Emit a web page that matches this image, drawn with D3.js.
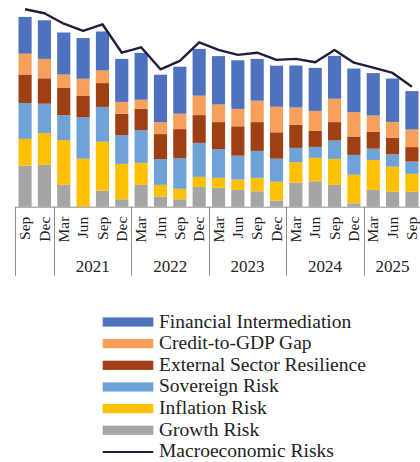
<!DOCTYPE html>
<html>
<head>
<meta charset="utf-8">
<script src="https://cdn.jsdelivr.net/npm/d3@7"></script>
<style>
  html, body { margin: 0; padding: 0; background: #fff; }
  svg { display: block; }
  text { font-family: "Liberation Serif", "Times New Roman", serif; fill: #222; }
</style>
</head>
<body>
<svg id="chart" width="420" height="462"></svg>
<script>
// Quarterly periods, Sep 2020 to Sep 2025
const months = ["Sep","Dec","Mar","Jun","Sep","Dec","Mar","Jun","Sep","Dec","Mar","Jun","Sep","Dec","Mar","Jun","Sep","Dec","Mar","Jun","Sep"];
const periodYears = [2020,2020,2021,2021,2021,2021,2022,2022,2022,2022,2023,2023,2023,2023,2024,2024,2024,2024,2025,2025,2025];
const labelledYears = [2021, 2022, 2023, 2024, 2025];

// Risk component contributions (index points)
const growthRisk    = [20.5, 20.9, 10.9, 0.0, 8.0, 3.7, 10.9, 5.0, 3.7, 9.9, 9.5, 8.4, 7.7, 3.0, 12.0, 12.7, 10.9, 1.7, 8.4, 7.5, 7.5];
const inflationRisk = [13.4, 15.9, 22.4, 24.0, 24.5, 17.7, 11.0, 5.9, 5.2, 5.0, 4.9, 5.2, 6.7, 9.5, 10.2, 11.7, 13.0, 14.3, 14.9, 12.5, 8.9];
const sovereignRisk = [17.9, 14.7, 12.5, 20.7, 17.4, 14.4, 16.4, 12.9, 15.4, 17.0, 14.4, 11.9, 13.5, 11.5, 7.2, 5.5, 9.2, 9.9, 5.7, 6.2, 6.2];
const externalSector= [14.3, 12.7, 13.8, 10.9, 11.9, 10.7, 10.7, 12.5, 14.5, 13.9, 13.5, 14.7, 14.4, 13.2, 11.5, 8.0, 9.2, 9.2, 8.4, 8.2, 7.2];
const creditGap     = [10.4, 9.7, 6.5, 8.4, 6.3, 5.9, 4.5, 6.0, 7.7, 9.7, 8.8, 8.7, 10.7, 12.8, 8.7, 10.0, 11.7, 12.2, 8.2, 8.0, 8.8];
const financialInt  = [18.4, 19.3, 21.0, 20.3, 19.5, 21.5, 23.4, 23.7, 23.5, 23.4, 24.2, 24.3, 20.9, 20.5, 21.0, 21.5, 21.4, 21.8, 21.2, 21.7, 19.2];
const macroRisks    = [98.7, 96.7, 91.5, 87.9, 91.2, 77.0, 79.7, 68.7, 72.9, 82.2, 78.4, 75.9, 77.0, 73.4, 73.9, 72.2, 78.4, 72.0, 69.5, 66.9, 60.0];

const series = [
  { key: "growth",    name: "Growth Risk",                 color: "#A5A5A5", values: growthRisk },
  { key: "inflation", name: "Inflation Risk",              color: "#FFC000", values: inflationRisk },
  { key: "sovereign", name: "Sovereign Risk",              color: "#6FA3D7", values: sovereignRisk },
  { key: "external",  name: "External Sector Resilience",  color: "#9E4014", values: externalSector },
  { key: "credit",    name: "Credit-to-GDP Gap",           color: "#F7A05C", values: creditGap },
  { key: "financial", name: "Financial Intermediation",    color: "#4F72BE", values: financialInt }
];
const lineColor = "#211D3F";

const svg = d3.select("#chart");

const ids = months.map((m, i) => m + " " + periodYears[i]);
const rows = ids.map((id, i) => {
  const r = { id };
  series.forEach(s => { r[s.key] = s.values[i]; });
  r.macro = macroRisks[i];
  return r;
});

const x = d3.scaleBand().domain(ids).range([15.4, 421.6]).paddingInner(0.32).paddingOuter(0.16);
const y = d3.scaleLinear().domain([0, 100]).range([206.7, 6.7]);

const stacked = d3.stack().keys(series.map(s => s.key))(rows);

// stacked bars
svg.append("g").selectAll("g")
  .data(stacked)
  .join("g")
  .attr("fill", (d, i) => series[i].color)
  .selectAll("rect")
  .data(d => d)
  .join("rect")
  .attr("x", d => x(d.data.id))
  .attr("width", x.bandwidth())
  .attr("y", d => y(d[1]))
  .attr("height", d => Math.max(0, y(d[0]) - y(d[1])));

// macroeconomic risks line
const line = d3.line()
  .x(d => x(d.id) + x.bandwidth() / 2)
  .y(d => y(d.macro));
svg.append("path")
  .datum(rows)
  .attr("fill", "none")
  .attr("stroke", lineColor)
  .attr("stroke-width", 2.4)
  .attr("stroke-linejoin", "round")
  .attr("d", line);

// category axis
const axisY = y(0);
const axisColor = "#8E8E8E";
svg.append("line")
  .attr("x1", x.range()[0]).attr("x2", 420)
  .attr("y1", axisY + 0.5).attr("y2", axisY + 0.5)
  .attr("stroke", axisColor).attr("stroke-width", 1);

// group separators at year boundaries
const step = x.step();
const boundaries = [0];
for (let i = 1; i < ids.length; i++) {
  if (periodYears[i] !== periodYears[i - 1]) boundaries.push(i);
}
svg.append("g").selectAll("line")
  .data(boundaries)
  .join("line")
  .attr("x1", i => Math.round(x.range()[0] + i * step) + 0.5)
  .attr("x2", i => Math.round(x.range()[0] + i * step) + 0.5)
  .attr("y1", axisY)
  .attr("y2", 275.7)
  .attr("stroke", axisColor).attr("stroke-width", 1);

// month labels, rotated
svg.append("g").selectAll("text")
  .data(rows)
  .join("text")
  .attr("transform", (d, i) => `translate(${x(d.id) + x.bandwidth() / 2},216.7) rotate(-90)`)
  .attr("text-anchor", "end")
  .attr("dy", "0.33em")
  .style("font-size", "15.5px")
  .text((d, i) => months[i]);

// year labels centred under their quarters
svg.append("g").selectAll("text")
  .data(labelledYears)
  .join("text")
  .attr("x", yr => {
    const idx = periodYears.map((p, i) => p === yr ? i : -1).filter(i => i >= 0);
    const a = x.range()[0] + idx[0] * step;
    const b = x.range()[0] + (idx[idx.length - 1] + 1) * step;
    return (a + b) / 2;
  })
  .attr("y", 271.7)
  .attr("text-anchor", "middle")
  .style("font-size", "17px")
  .text(d => d);

// legend
const legendItems = series.slice().reverse().map(s => ({ name: s.name, color: s.color, type: "rect" }));
legendItems.push({ name: "Macroeconomic Risks", color: lineColor, type: "line" });
const legend = svg.append("g").selectAll("g")
  .data(legendItems)
  .join("g")
  .attr("transform", (d, i) => `translate(102.7,${322 + i * 21.65})`);
legend.filter(d => d.type === "rect").append("rect")
  .attr("x", 0).attr("y", -4.6).attr("width", 50.6).attr("height", 9.2)
  .attr("fill", d => d.color);
legend.filter(d => d.type === "line").append("line")
  .attr("x1", 0).attr("x2", 50.6).attr("y1", 0).attr("y2", 0)
  .attr("stroke", d => d.color).attr("stroke-width", 2);
legend.append("text")
  .attr("x", 56.3)
  .attr("y", 5.5)
  .style("font-size", "19.5px")
  .text(d => d.name);
</script>
</body>
</html>
